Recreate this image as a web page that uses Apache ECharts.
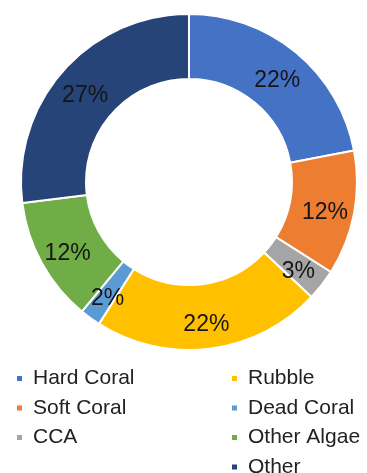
<!DOCTYPE html>
<html>
<head>
<meta charset="utf-8">
<script src="https://cdn.jsdelivr.net/npm/echarts@6/dist/echarts.min.js"></script>
<style>
html,body{margin:0;padding:0;background:#fff;}
#c{width:367px;height:473px;}
</style>
</head>
<body>
<div id="c"></div>
<script>
const categories = ["Hard Coral", "Soft Coral", "CCA", "Rubble", "Dead Coral", "Other Algae", "Other"];
const values = [22, 12, 3, 22, 2, 12, 27];
const colors = ["#4472C4", "#ED7D31", "#A5A5A5", "#FFC000", "#5B9BD5", "#70AD47", "#264478"];
const legendLeft = ["Hard Coral", "Soft Coral", "CCA"];
const legendRight = ["Rubble", "Dead Coral", "Other Algae", "Other"];

const chart = echarts.init(document.getElementById('c'));
const legendCommon = {
  type: 'plain',
  orient: 'vertical',
  icon: 'rect',
  itemWidth: 7,
  itemHeight: 7,
  itemGap: 8.5,
  padding: 0,
  height: 140,
  selectedMode: false,
  textStyle: {
    fontFamily: 'Liberation Sans',
    fontSize: 21,
    color: '#222',
    lineHeight: 20,
    padding: [0, 0, 0, 5]
  }
};
chart.setOption({
  backgroundColor: '#fff',
  color: colors,
  legend: [
    Object.assign({}, legendCommon, { data: legendLeft, left: 15, top: 368 }),
    Object.assign({}, legendCommon, { data: legendRight, left: 230, top: 368 })
  ],
  series: [{
    type: 'pie',
    center: [189, 182],
    radius: [103, 168],
    startAngle: 90,
    clockwise: true,
    avoidLabelOverlap: false,
    itemStyle: { borderColor: '#fff', borderWidth: 2 },
    label: {
      show: true,
      position: 'inside',
      formatter: '{c}%',
      fontFamily: 'Liberation Sans',
      fontSize: 23,
      color: '#151515',
      offset: [0, 5]
    },
    labelLine: { show: false },
    data: categories.map((n, i) => ({ name: n, value: values[i] }))
  }]
});
</script>
</body>
</html>
